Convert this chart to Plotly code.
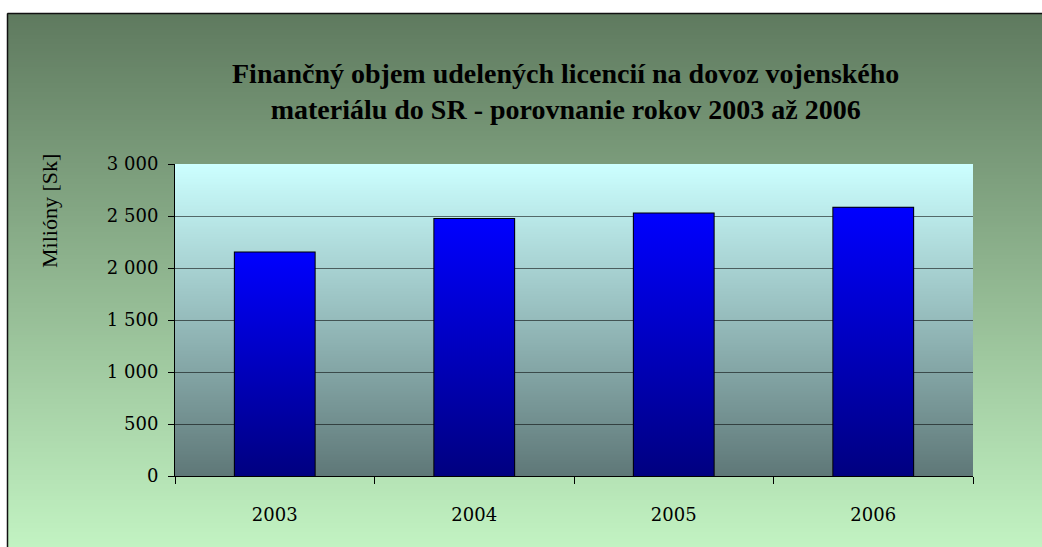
import base64
import struct
import zlib

import plotly.graph_objects as go

# ---------------- data ----------------
years = ["2003", "2004", "2005", "2006"]
values = [2150, 2470, 2525, 2580]
y_ticks = [0, 500, 1000, 1500, 2000, 2500, 3000]
title_text = ("Finančný objem udelených licencií na dovoz vojenského<br>"
              "materiálu do SR - porovnanie rokov 2003 až 2006")
y_title = "Milióny [Sk]"

# ---------------- layout geometry (page pixels) ----------------
W, H = 1042, 547
PLOT_L, PLOT_R, PLOT_T, PLOT_B = 175, 973, 164, 476
ML, MT = PLOT_L, PLOT_T
MR, MB = W - PLOT_R, H - PLOT_B
PW = PLOT_R - PLOT_L
PH = PLOT_B - PLOT_T


def px_x(px):
    return (px - PLOT_L) / PW


def px_y(py):
    return (PLOT_B - py) / PH


def grad_png(top, bottom, n=256):
    rows = []
    for k in range(n):
        t = k / (n - 1)
        c = [round(top[j] + (bottom[j] - top[j]) * t) for j in range(3)]
        rows.append(b"\x00" + bytes(c * 2))
    raw = b"".join(rows)

    def chunk(tag, data):
        return (struct.pack(">I", len(data)) + tag + data
                + struct.pack(">I", zlib.crc32(tag + data) & 0xFFFFFFFF))

    png = (b"\x89PNG\r\n\x1a\n"
           + chunk(b"IHDR", struct.pack(">IIBBBBB", 2, n, 8, 2, 0, 0, 0))
           + chunk(b"IDAT", zlib.compress(raw))
           + chunk(b"IEND", b""))
    return "data:image/png;base64," + base64.b64encode(png).decode()


paper_grad = grad_png((0x5F, 0x7A, 0x5F), (0xCC, 0xFF, 0xCC))
plot_grad = grad_png((0xCC, 0xFF, 0xFF), (0x5F, 0x78, 0x78))

fig = go.Figure()

xs = list(range(len(years)))
bw = 0.4
# gradient-filled bar bodies
for i, v in zip(xs, values):
    fig.add_trace(go.Scatter(
        x=[i - bw / 2, i + bw / 2, i + bw / 2, i - bw / 2, i - bw / 2],
        y=[0, 0, v, v, 0],
        mode="lines", fill="toself",
        line=dict(width=0, color="rgba(0,0,0,0)"),
        fillgradient=dict(type="vertical",
                          colorscale=[[0, "#000080"], [1, "#0000FF"]]),
        hoverinfo="skip", showlegend=False,
    ))

# bar outlines
fig.add_trace(go.Bar(
    x=xs, y=values, width=bw,
    marker=dict(color="rgba(0,0,0,0)", line=dict(color="black", width=2)),
    showlegend=False,
))

fig.update_layout(
    width=W, height=H,
    margin=dict(l=ML, r=MR, t=MT, b=MB, pad=0),
    paper_bgcolor="#ccffcc",
    plot_bgcolor="rgba(0,0,0,0)",
    separators=". ",
    showlegend=False,
    images=[
        dict(source=paper_grad, xref="paper", yref="paper",
             x=px_x(7), y=px_y(13), sizex=(W + 40) / PW,
             sizey=(H + 40) / PH, sizing="stretch",
             xanchor="left", yanchor="top", layer="below"),
        dict(source=plot_grad, xref="paper", yref="paper",
             x=0, y=1, sizex=1, sizey=1, sizing="stretch",
             xanchor="left", yanchor="top", layer="below"),
    ],
    shapes=[
        dict(type="rect", xref="paper", yref="paper",
             x0=px_x(-20), x1=px_x(W + 20),
             y0=px_y(13), y1=px_y(-20),
             line=dict(width=0), fillcolor="white", layer="below"),
        dict(type="rect", xref="paper", yref="paper",
             x0=px_x(-20), x1=px_x(7),
             y0=px_y(H + 20), y1=px_y(-20),
             line=dict(width=0), fillcolor="white", layer="below"),
        dict(type="line", xref="paper", yref="paper",
             x0=px_x(7.5), x1=px_x(W + 20), y0=px_y(13.5), y1=px_y(13.5),
             line=dict(color="#111", width=1.5), layer="below"),
        dict(type="line", xref="paper", yref="paper",
             x0=px_x(7.5), x1=px_x(7.5), y0=px_y(13.5), y1=px_y(H + 20),
             line=dict(color="#111", width=1.5), layer="below"),
    ],
    annotations=[
        dict(text=title_text, xref="paper", yref="paper",
             x=px_x(565), y=px_y(92), xanchor="center", yanchor="middle",
             showarrow=False,
             font=dict(family="Liberation Serif", size=28, color="black",
                       weight="bold")),
        dict(text=y_title, xref="paper", yref="paper",
             x=px_x(49), y=px_y(211), xanchor="center", yanchor="middle",
             textangle=-90, showarrow=False,
             font=dict(family="Liberation Serif", size=22, color="black")),
    ],
    xaxis=dict(
        range=[-0.5, len(years) - 0.5],
        tickvals=xs, ticktext=years, ticks="",
        showgrid=False, zeroline=False,
        showline=True, linecolor="black", linewidth=1,
        tickfont=dict(family="DejaVu Serif", size=18, color="black"),
        ticklabelstandoff=22,
        minor=dict(tickvals=[i - 0.5 for i in range(len(years) + 1)],
                   ticks="outside", ticklen=7, tickcolor="black",
                   tickwidth=1, showgrid=False),
    ),
    yaxis=dict(
        range=[0, 3000], tickvals=y_ticks,
        separatethousands=True,
        ticks="outside", ticklen=6, tickcolor="black",
        showgrid=True, gridcolor="rgba(0,0,0,0.55)", gridwidth=1,
        zeroline=False,
        showline=True, linecolor="black", linewidth=1,
        tickfont=dict(family="DejaVu Serif", size=18, color="black"),
        ticklabelstandoff=6,
    ),
)

fig.write_html(
    "out.html",
    config={"displayModeBar": False},
    post_script="document.documentElement.style.overflow='hidden';"
                "document.body.style.margin='0';"
                "document.body.style.padding='0';"
                "document.body.style.overflow='hidden';",
)
